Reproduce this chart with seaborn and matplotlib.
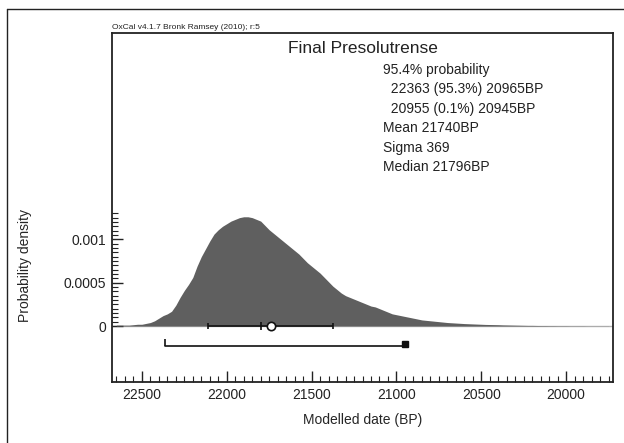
import numpy as np
import pandas as pd
import seaborn as sns
import matplotlib.pyplot as plt
from matplotlib.lines import Line2D
from matplotlib.ticker import FixedLocator, MultipleLocator

# modelled date, 25-year bins (BP), 22650 down to 19750
years = np.arange(22650, 19725, -25)
density = [0.00001, 0.00001, 0.00001, 0.00001, 0.000015, 0.00002, 0.00002, 0.00003, 0.00004, 0.00006, 0.00009,
           0.00012, 0.00014, 0.00017, 0.00024, 0.00033, 0.00041, 0.00048, 0.00056, 0.00069, 0.0008, 0.00089,
           0.00098, 0.00106, 0.00111, 0.00115, 0.00118, 0.00121, 0.00123, 0.00125, 0.00126, 0.00126, 0.00125,
           0.00123, 0.00121, 0.00116, 0.00111, 0.00107, 0.00103, 0.00099, 0.00095, 0.00091, 0.00087, 0.00083,
           0.00078, 0.00073, 0.00069, 0.00065, 0.00061, 0.00056, 0.00051, 0.00046, 0.00042, 0.00038, 0.00035,
           0.00033, 0.00031, 0.00029, 0.00027, 0.00025, 0.00023, 0.00022, 0.0002, 0.00018, 0.00016, 0.00014,
           0.00013, 0.00012, 0.00011, 0.0001, 0.00009, 0.00008, 0.00007, 0.000065, 0.00006, 0.000055, 0.00005,
           0.000045, 0.00004, 0.000037, 0.000034, 0.000031, 0.000028, 0.000026, 0.000024, 0.000022, 0.00002, 0.000018,
           0.000017, 0.000016, 0.000015, 0.000013, 0.000012, 0.000011, 0.00001, 0.000009, 0.000008, 0.000007, 0.000007,
           0.000006, 0.000005, 0.000005, 0.000004, 0.000004, 0.000003, 0.000003, 0.000003, 0.000002, 0.000002, 0.000002,
           0.000002, 0.000001, 0.000001, 0.000001, 0.000001, 0.000001, 0.000001]
df = pd.DataFrame({'year': years, 'density': density})

mean_bp = 21740
sigma = 369
median_bp = 21796
range_main = (22363, 20965)
range_small = (20955, 20945)

title = 'Final Presolutrense'
info_lines = ['95.4% probability', '  22363 (95.3%) 20965BP', '  20955 (0.1%) 20945BP',
              'Mean 21740BP', 'Sigma 369', 'Median 21796BP']
x_ticks = [22500, 22000, 21500, 21000, 20500, 20000]
y_ticks = [0, 0.0005, 0.001]
y_ticklabels = ['0', '0.0005', '0.001']

sns.set_style('white')
plt.rcParams['font.family'] = ['Liberation Sans', 'DejaVu Sans']
plt.rcParams['text.color'] = '#222222'

fig = plt.figure(figsize=(6.24, 4.43), dpi=100)
ax = fig.add_axes([0.1795, 0.1377, 0.8029, 0.7878])

ax.axhline(0, color='#b4b4b4', lw=1, zorder=0)
sns.histplot(data=df, x='year', weights='density', binwidth=25, binrange=(19737.5, 22662.5),
             element='poly', fill=True, color='#5f5f5f', alpha=1, linewidth=0, ax=ax)

# mean +- sigma, median tick, mean circle
ax.errorbar(mean_bp, 0, xerr=sigma, color='#111111', lw=1.2, capsize=2.3, capthick=1.2)
ax.plot(median_bp, 0, marker='|', ms=6, mew=1.2, color='#111111')
ax.plot(mean_bp, 0, 'o', ms=6, mfc='white', mec='#111111', mew=1.2, zorder=5)

# 95.4% ranges
yr = -0.00023
ax.plot(range_main, [yr, yr], color='#111111', lw=1.2)
ax.plot(range_main[0], yr, marker=2, ms=5, mew=1.2, color='#111111')
ax.plot(np.mean(range_small), yr + 0.00002, 's', ms=4, color='#111111')

ax.set_xlim(22676, 19724)
ax.set_ylim(-0.000646, 0.00338)
ax.xaxis.set_major_locator(FixedLocator(x_ticks))
ax.xaxis.set_minor_locator(MultipleLocator(50))
ax.set_xticklabels([str(t) for t in x_ticks], fontsize=10)
ax.yaxis.set_major_locator(FixedLocator(y_ticks))
ax.yaxis.set_minor_locator(FixedLocator(np.arange(0, 0.00131, 0.00005)))
ax.set_yticklabels(y_ticklabels, fontsize=10)
ax.tick_params(which='major', direction='in', length=8, width=1, color='#222222',
               labelcolor='#222222', pad=4, bottom=True, left=True)
ax.tick_params(which='minor', direction='in', length=4, width=0.8, color='#222222',
               bottom=True, left=True)
for s in ax.spines.values():
    s.set_color('#222222')
    s.set_linewidth(1.3)

ax.set_xlabel('Modelled date (BP)', fontsize=10, labelpad=8)
ax.set_ylabel('Probability density', fontsize=10)
ax.yaxis.set_label_coords(-0.16, 0.335)

ax.text(0.5, 0.955, title, transform=ax.transAxes, ha='center', va='center', fontsize=12.5)
for i, line in enumerate(info_lines):
    ax.text(0.541, 0.895 - i * 0.0558, line, transform=ax.transAxes, ha='left',
            va='center', fontsize=10)
ax.text(0.0, 1.006, 'OxCal v4.1.7 Bronk Ramsey (2010); r:5', transform=ax.transAxes,
        ha='left', va='bottom', fontsize=6)

# outer frame (left and top edges visible)
fig.add_artist(Line2D([7 / 624, 7 / 624], [0, 1 - 9 / 443], color='#222222', lw=1))
fig.add_artist(Line2D([7 / 624, 1], [1 - 9 / 443, 1 - 9 / 443], color='#222222', lw=1))

fig.savefig('out.png', dpi=100)
